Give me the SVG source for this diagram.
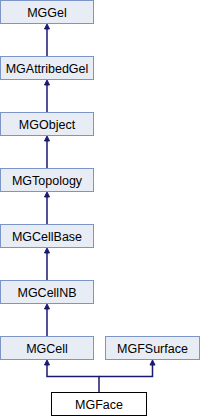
<svg xmlns="http://www.w3.org/2000/svg" width="200" height="416" viewBox="0 0 200 416">
<style>
.n rect{fill:#e8ecf5;stroke:#7c95c8;stroke-width:1}
.f rect{fill:#ffffff;stroke:#000000;stroke-width:1}
text{font-family:"Liberation Sans",Arial,sans-serif;font-size:12.5px;fill:#000;text-anchor:middle}
.e path{fill:none;stroke:#191970;stroke-width:1.5}
.e polygon{fill:#191970;stroke:#191970;stroke-width:1}
</style>
<rect width="200" height="416" fill="#ffffff"/>
<g class="e" id="edges">
<path d="M47,56.5V28"/><polygon points="47,24 44.5,29 49.5,29"/>
<path d="M47,112.5V84"/><polygon points="47,80 44.5,85 49.5,85"/>
<path d="M47,168.5V140"/><polygon points="47,136 44.5,141 49.5,141"/>
<path d="M47,224.5V196"/><polygon points="47,192 44.5,197 49.5,197"/>
<path d="M47,280.5V252"/><polygon points="47,248 44.5,253 49.5,253"/>
<path d="M47,336.5V308"/><polygon points="47,304 44.5,309 49.5,309"/>
<path d="M99,392.5V376.5H47V364"/><polygon points="47,360 44.5,365 49.5,365"/>
<path d="M99,376.5H152.5V364"/><polygon points="152.5,360 150,365 155,365"/>
</g>
<g class="n" id="MGGel"><rect x="0.5" y="0.5" width="93" height="23"/><text x="47" y="17">MGGel</text></g>
<g class="n" id="MGAttribedGel"><rect x="0.5" y="56.5" width="93" height="23"/><text x="47" y="73">MGAttribedGel</text></g>
<g class="n" id="MGObject"><rect x="0.5" y="112.5" width="93" height="23"/><text x="47" y="129">MGObject</text></g>
<g class="n" id="MGTopology"><rect x="0.5" y="168.5" width="93" height="23"/><text x="47" y="185">MGTopology</text></g>
<g class="n" id="MGCellBase"><rect x="0.5" y="224.5" width="93" height="23"/><text x="47" y="241">MGCellBase</text></g>
<g class="n" id="MGCellNB"><rect x="0.5" y="280.5" width="93" height="23"/><text x="47" y="297">MGCellNB</text></g>
<g class="n" id="MGCell"><rect x="0.5" y="336.5" width="93" height="23"/><text x="47" y="353">MGCell</text></g>
<g class="n" id="MGFSurface"><rect x="105.5" y="336.5" width="94" height="23"/><text x="152.5" y="353">MGFSurface</text></g>
<g class="f" id="MGFace"><rect x="51.5" y="392.5" width="95" height="23"/><text x="99" y="409">MGFace</text></g>
</svg>
